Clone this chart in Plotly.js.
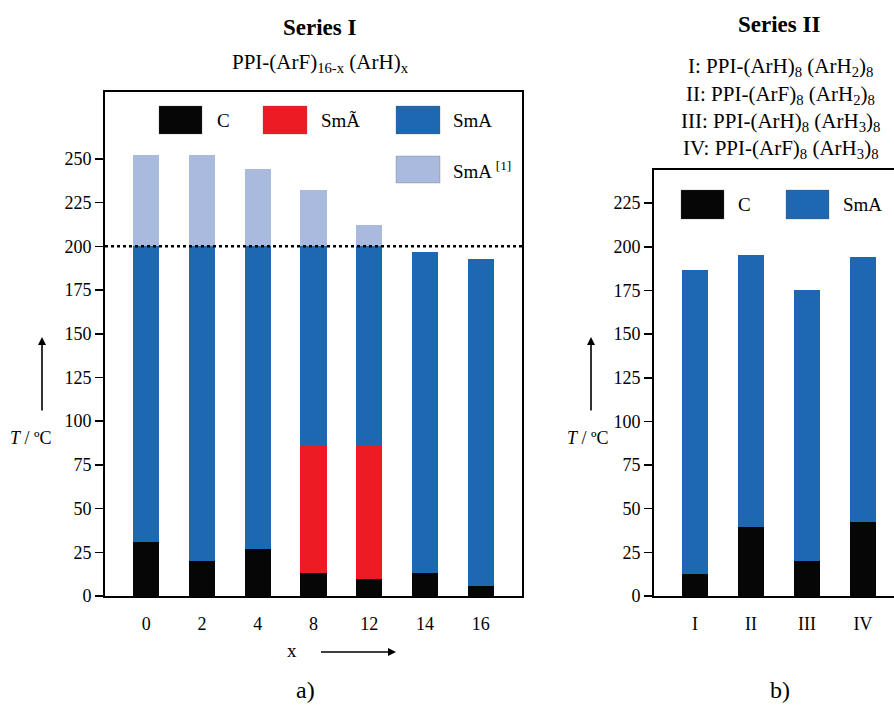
<!DOCTYPE html>
<html>
<head>
<meta charset="utf-8">
<script src="https://cdn.plot.ly/plotly-3.0.1.min.js"></script>
<style>html,body{margin:0;padding:0;background:#fff;}#chart{width:894px;height:708px;}</style>
</head>
<body>
<div id="chart"></div>
<script>
// ---------- Data ----------
// Series I: PPI-(ArF)16-x (ArH)x
const seriesI_x = ['0', '2', '4', '8', '12', '14', '16'];
const seriesI_C = [31, 20, 27, 13, 10, 13, 6];                     // C -> mesophase (°C)
const seriesI_SmAt = [null, null, null, 86.5, 86.5, null, null];     // SmÃ -> SmA (°C)
const seriesI_clear = [252.5, 252.5, 244.5, 232, 212.5, 197, 193];   // clearing (°C)
const seriesI_limit = 200;                                           // dotted line (SmA [1] above)
const seriesI_ticks = [0, 25, 50, 75, 100, 125, 150, 175, 200, 225, 250];

// Series II
const seriesII_x = ['I', 'II', 'III', 'IV'];
const seriesII_C = [12.5, 39.5, 20, 42.5];
const seriesII_clear = [187, 195.5, 175, 194];
const seriesII_ticks = [0, 25, 50, 75, 100, 125, 150, 175, 200, 225];

// ---------- Styles ----------
const COL_C = '#060606', COL_SMT = '#ED1C24', COL_SMA = '#1D68B1', COL_SMA1 = '#AAB9DE';
const FONT = 'Liberation Serif';
const W = 894, H = 708;
const px = X => X / W, py = Y => 1 - Y / H;

// ---------- Segment lengths ----------
const sI_C = seriesI_C;
const sI_T = seriesI_SmAt.map((t, i) => t == null ? 0 : t - seriesI_C[i]);
const sI_A = seriesI_clear.map((c, i) => {
  const start = seriesI_SmAt[i] == null ? seriesI_C[i] : seriesI_SmAt[i];
  return Math.min(c, seriesI_limit) - start;
});
const sI_A1 = seriesI_clear.map(c => Math.max(c - seriesI_limit, 0));

const sII_A = seriesII_clear.map((c, i) => c - seriesII_C[i]);

const bar = (x, y, color, name, xa, ya) => ({
  type: 'bar', x, y, name, xaxis: xa, yaxis: ya,
  marker: {color, line: {width: 0}}, showlegend: false, hoverinfo: 'skip'
});

const data = [
  bar(seriesI_x, sI_C, COL_C, 'C', 'x', 'y'),
  bar(seriesI_x, sI_T, COL_SMT, 'SmÃ', 'x', 'y'),
  bar(seriesI_x, sI_A, COL_SMA, 'SmA', 'x', 'y'),
  bar(seriesI_x, sI_A1, COL_SMA1, 'SmA [1]', 'x', 'y'),
  bar(seriesII_x, seriesII_C, COL_C, 'C', 'x2', 'y2'),
  bar(seriesII_x, sII_A, COL_SMA, 'SmA', 'x2', 'y2')
];

const tickfont = {family: FONT, size: 18, color: '#000'};
const axLine = {showline: true, linecolor: '#000', linewidth: 2, showgrid: false, zeroline: false, fixedrange: true};

const layout = {
  width: W, height: H,
  margin: {l: 0, r: 0, t: 0, b: 0},
  paper_bgcolor: '#fff', plot_bgcolor: '#fff',
  barmode: 'stack', bargap: 0.525,
  showlegend: false,
  font: {family: FONT, color: '#000'},
  xaxis: Object.assign({}, axLine, {
    domain: [px(105), px(522)], type: 'category', range: [-0.74, 6.74],
    mirror: true, ticks: '', tickfont, ticklabelstandoff: 10, anchor: 'y'
  }),
  yaxis: Object.assign({}, axLine, {
    domain: [py(596), py(92)], range: [0, 288.3], mirror: true,
    tickmode: 'array', tickvals: seriesI_ticks, ticktext: seriesI_ticks.map(String),
    ticks: 'outside', ticklen: 8, tickwidth: 1.5, tickcolor: '#000', tickfont, anchor: 'x'
  }),
  xaxis2: Object.assign({}, axLine, {
    domain: [px(654), 1], type: 'category', range: [-0.732, 3.554],
    mirror: true, ticks: '', tickfont, ticklabelstandoff: 10, anchor: 'y2'
  }),
  yaxis2: Object.assign({}, axLine, {
    domain: [py(596), py(170)], range: [0, 244], mirror: false,
    tickmode: 'array', tickvals: seriesII_ticks, ticktext: seriesII_ticks.map(String),
    ticks: 'outside', ticklen: 8, tickwidth: 1.5, tickcolor: '#000', tickfont, anchor: 'x2'
  }),
  shapes: [
    {type: 'line', xref: 'x domain', yref: 'y', x0: 0, x1: 1, y0: seriesI_limit, y1: seriesI_limit,
     line: {color: '#000', width: 2.5, dash: 'dot'}, layer: 'above'}
  ],
  annotations: []
};

const ann = (text, X, Y, size, extra) => layout.annotations.push(Object.assign({
  text, xref: 'paper', yref: 'paper', x: px(X), y: py(Y), xanchor: 'center', yanchor: 'middle',
  showarrow: false, font: {family: FONT, size, color: '#000'}
}, extra || {}));

// Titles
ann('<b>Series I</b>', 320, 27, 23);
ann('PPI-(ArF)<sub>16-x</sub> (ArH)<sub>x</sub>', 320, 63, 21);
ann('<b>Series II</b>', 779, 25, 23);
ann('I: PPI-(ArH)<sub>8</sub> (ArH<sub>2</sub>)<sub>8</sub>', 780, 67, 21);
ann('II: PPI-(ArF)<sub>8</sub> (ArH<sub>2</sub>)<sub>8</sub>', 780, 95, 21);
ann('III: PPI-(ArH)<sub>8</sub> (ArH<sub>3</sub>)<sub>8</sub>', 780, 122, 21);
ann('IV: PPI-(ArF)<sub>8</sub> (ArH<sub>3</sub>)<sub>8</sub>', 780, 149, 21);

// Axis titles
ann('<i>T</i> / ºC', 31, 438, 18);
ann('<i>T</i> / ºC', 588, 438, 18);
ann('x', 292, 650, 19);
ann('a)', 305, 690, 24);
ann('b)', 780, 690, 24);

// Arrows
const arrow = (X, Y, ax, ay) => layout.annotations.push({
  text: ' ', xref: 'paper', yref: 'paper', x: px(X), y: py(Y), ax, ay, axref: 'pixel', ayref: 'pixel',
  showarrow: true, arrowhead: 2, arrowsize: 1, arrowwidth: 1.6, arrowcolor: '#000', standoff: 0,
  font: {family: FONT, size: 2}
});
arrow(42, 337, 0, 76);
arrow(591, 337, 0, 76);
arrow(396, 652, -77, 0);

// Legends (swatches + labels)
const swatch = (x0, y0, x1, y1, color) => layout.shapes.push({
  type: 'rect', xref: 'paper', yref: 'paper', x0: px(x0), x1: px(x1), y0: py(y1), y1: py(y0),
  fillcolor: color, line: {color: 'rgba(90,90,90,0.35)', width: 0.8}, layer: 'above'
});
const label = (text, X, Y) => ann(text, X, Y, 19, {xanchor: 'left'});

swatch(159, 106, 202, 134, COL_C);    label('C', 215, 120);
swatch(263, 106, 307, 134, COL_SMT);  label('SmÃ', 319, 120);
swatch(396, 106, 440, 134, COL_SMA);  label('SmA', 451, 120);
swatch(396, 156, 440, 183, COL_SMA1); label('SmA <sup>[1]</sup>', 451, 170);

swatch(681, 190, 724, 219, COL_C);    label('C', 736, 204);
swatch(786, 190, 829, 219, COL_SMA);  label('SmA', 841, 204);

Plotly.newPlot('chart', data, layout, {staticPlot: true, displayModeBar: false});
</script>
</body>
</html>
